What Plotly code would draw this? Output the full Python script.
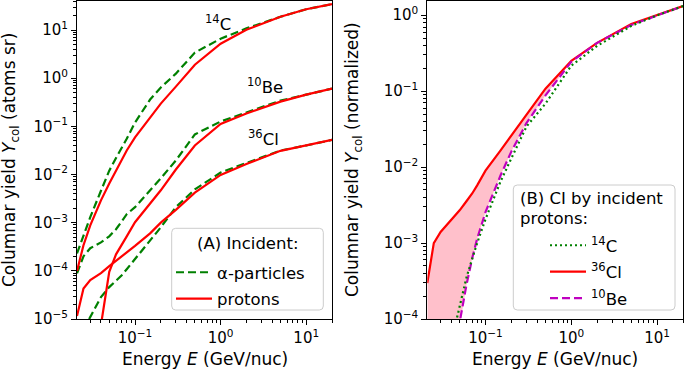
import math
import plotly.graph_objects as go

# ---------------- data ----------------
energy = [0.021, 0.025, 0.03, 0.04, 0.05, 0.06, 0.07, 0.08, 0.1, 0.15, 0.2, 0.3, 0.5, 1, 2, 5, 10, 20]

# (A) columnar yield (atoms sr)
c14_alpha = [2.3e-4, 5.6e-4, 1.3e-3, 4.6e-3, 1.2e-2, 2.2e-2, 3.5e-2, 5.5e-2, 0.12, 0.36, 0.64, 1.24, 3.4, 6.6, 10.8, 18.8, 27, 34.4]
c14_proton = [9.9e-5, 3.4e-4, 8.8e-4, 2.9e-3, 6.5e-3, 1.22e-2, 2.06e-2, 3.15e-2, 5.9e-2, 0.152, 0.296, 0.667, 1.9, 5.2, 10.1, 18.8, 27, 34.4]
be10_alpha = [8.9e-5, 2.0e-4, 2.95e-4, 3.9e-4, 5.2e-4, 7.3e-4, 1.07e-3, 1.5e-3, 2.1e-3, 4.7e-3, 8.3e-3, 1.96e-2, 6.8e-2, 0.126, 0.193, 0.342, 0.455, 0.607]
be10_proton = [None, None, None, 7.5e-6, 9.5e-5, 2.2e-4, 3.4e-4, 5.2e-4, 1.02e-3, 2.5e-3, 4.7e-3, 1.27e-2, 4.0e-2, 0.112, 0.184, 0.326, 0.455, 0.607]
cl36_alpha = [None, 6e-6, 1.1e-5, 2.85e-5, 4.6e-5, 6.1e-5, 8.1e-5, 1.08e-4, 1.75e-4, 4.3e-4, 8.0e-4, 2.1e-3, 4.9e-3, 1.1e-2, 1.75e-2, 3.15e-2, 4.0e-2, 5.23e-2]
cl36_proton = [1.15e-5, 4.3e-5, 6.4e-5, 8.95e-5, 1.25e-4, 1.6e-4, 2.0e-4, 2.44e-4, 3.3e-4, 6.0e-4, 1.0e-3, 1.85e-3, 4.2e-3, 9.8e-3, 1.65e-2, 3.1e-2, 4.0e-2, 5.23e-2]

# (B) normalized columnar yield, incident protons
c14_norm = [None, None, None, 5e-5, 1.4e-4, 3.5e-4, 6.2e-4, 1.0e-3, 2.06e-3, 6.5e-3, 1.3e-2, 3.42e-2, 6.86e-2, 0.217, 0.395, 0.724, 1.0, 1.32]
cl36_norm = [2.98e-4, 1.0e-3, 1.4e-3, 2.0e-3, 2.7e-3, 3.55e-3, 4.5e-3, 5.75e-3, 9.0e-3, 1.66e-2, 2.6e-2, 4.9e-2, 0.108, 0.251, 0.433, 0.769, 1.0, 1.32]
be10_norm = [None, None, None, 1.7e-5, 9e-5, 2.8e-4, 6.3e-4, 1.14e-3, 2.55e-3, 7.8e-3, 1.6e-2, 3.8e-2, 8.8e-2, 0.244, 0.433, 0.745, 1.0, 1.32]

x_ticks = [0.1, 1, 10]
x_ticktext = ["10<sup>\u22121</sup>", "10<sup>0</sup>", "10<sup>1</sup>"]
yA_ticks = [1e-5, 1e-4, 1e-3, 1e-2, 1e-1, 1, 10]
yA_ticktext = ["10<sup>\u22125</sup>", "10<sup>\u22124</sup>", "10<sup>\u22123</sup>", "10<sup>\u22122</sup>",
               "10<sup>\u22121</sup>", "10<sup>0</sup>", "10<sup>1</sup>"]
yB_ticks = [1e-4, 1e-3, 1e-2, 1e-1, 1]
yB_ticktext = ["10<sup>\u22124</sup>", "10<sup>\u22123</sup>", "10<sup>\u22122</sup>", "10<sup>\u22121</sup>", "10<sup>0</sup>"]

# ---------------- styles / layout geometry ----------------
FONT = "DejaVu Sans"
FS_TICK = 15
FS_TITLE = 17
FS_LEG = 16.5
GREEN = "#008000"
RED = "#ff0000"
MAGENTA = "#bf00bf"
PINK = "#ffc0cb"
LW = 2.2
FILL_FLOOR = 1e-7
W, H = 685, 369
ML, MR, MT, MB = 77, 2, 1, 50
PW, PH = W - ML - MR, H - MT - MB


def px_x(px):
    return (px - ML) / PW


def px_y(py):
    return (H - MB - py) / PH


fig = go.Figure()

# ---- panel A ----
for i, ys in enumerate([c14_alpha, be10_alpha, cl36_alpha]):
    fig.add_trace(go.Scatter(x=energy, y=ys, mode="lines", name="\u03b1-particles",
                             line=dict(color=GREEN, width=LW, dash="8px,4px"),
                             showlegend=(i == 0), legend="legend", legendrank=1, legendgroup="a",
                             xaxis="x", yaxis="y", hoverinfo="skip"))
for i, ys in enumerate([c14_proton, be10_proton, cl36_proton]):
    fig.add_trace(go.Scatter(x=energy, y=ys, mode="lines", name="protons",
                             line=dict(color=RED, width=LW),
                             showlegend=(i == 0), legend="legend", legendrank=2, legendgroup="p",
                             xaxis="x", yaxis="y", hoverinfo="skip"))

# ---- panel B ----
lower = [v if v is not None else FILL_FLOOR for v in be10_norm]
fig.add_trace(go.Scatter(x=energy + energy[::-1], y=cl36_norm + lower[::-1],
                         mode="lines", fill="toself", fillcolor=PINK,
                         line=dict(width=0, color=PINK), showlegend=False,
                         xaxis="x2", yaxis="y2", hoverinfo="skip"))
fig.add_trace(go.Scatter(x=energy, y=cl36_norm, mode="lines", name="<sup>36</sup>Cl",
                         line=dict(color=RED, width=LW), legend="legend2", legendrank=2, legendgroup="cl",
                         xaxis="x2", yaxis="y2", hoverinfo="skip"))
fig.add_trace(go.Scatter(x=energy, y=be10_norm, mode="lines", name="<sup>10</sup>Be",
                         line=dict(color=MAGENTA, width=LW, dash="8px,4px"), legend="legend2", legendrank=3,
                         legendgroup="be", xaxis="x2", yaxis="y2", hoverinfo="skip"))
fig.add_trace(go.Scatter(x=energy, y=c14_norm, mode="lines", name="<sup>14</sup>C",
                         line=dict(color=GREEN, width=LW, dash="2px,3px"), legend="legend2", legendrank=1,
                         legendgroup="c", xaxis="x2", yaxis="y2", hoverinfo="skip"))


def minor_vals(lo_exp, hi_exp, vmin, vmax):
    vals = []
    for e in range(lo_exp, hi_exp + 1):
        for m in range(2, 10):
            v = m * 10 ** e
            if vmin < v <= vmax:
                vals.append(v)
    return vals


def axis_common():
    return dict(type="log", showline=True, mirror=True, linecolor="black", linewidth=1,
                ticks="outside", ticklen=5, tickwidth=1, tickcolor="black", automargin=False,
                showgrid=False, zeroline=False,
                tickfont=dict(family=FONT, size=FS_TICK, color="black"))


xr = [math.log10(0.021), math.log10(20)]
xminor = minor_vals(-2, 1, 0.021, 20)
minor_style = dict(tickmode="array", ticks="outside", ticklen=3, tickwidth=1, tickcolor="black")

legend_common = dict(bgcolor="rgba(0,0,0,0)", borderwidth=0, font=dict(family=FONT, size=FS_LEG),
                     itemwidth=36, traceorder="grouped", tracegroupgap=2,
                     xanchor="left", yanchor="top")

fig.update_layout(
    template="none",
    width=W, height=H,
    margin=dict(l=ML, r=MR, t=MT, b=MB),
    paper_bgcolor="white", plot_bgcolor="white",
    font=dict(family=FONT, size=FS_TICK, color="black"),
    xaxis=dict(**axis_common(), domain=[0, px_x(332)], range=xr, anchor="y",
               tickmode="array", tickvals=x_ticks, ticktext=x_ticktext,
               minor=dict(**minor_style, tickvals=xminor)),
    yaxis=dict(**axis_common(), domain=[0, 1], range=[-5, math.log10(40)], anchor="x",
               tickmode="array", tickvals=yA_ticks, ticktext=yA_ticktext,
               minor=dict(**minor_style, tickvals=minor_vals(-5, 1, 1e-5, 40))),
    xaxis2=dict(**axis_common(), domain=[px_x(427.3), 1], range=xr, anchor="y2",
                tickmode="array", tickvals=x_ticks, ticktext=x_ticktext,
                minor=dict(**minor_style, tickvals=xminor)),
    yaxis2=dict(**axis_common(), domain=[0, 1], range=[-4, math.log10(1.54)], anchor="x2",
                tickmode="array", tickvals=yB_ticks, ticktext=yB_ticktext,
                minor=dict(**minor_style, tickvals=minor_vals(-4, 0, 1e-4, 1.54))),
    legend=dict(**legend_common, x=px_x(171), y=px_y(255)),
    legend2=dict(**legend_common, x=px_x(545), y=px_y(228)),
)


# legend frames (rounded boxes)
def rounded_box(x0, y0, x1, y1, r=4):
    X = lambda v: px_x(v)
    Y = lambda v: px_y(v)
    return (f"M {X(x0 + r)},{Y(y0)} L {X(x1 - r)},{Y(y0)} Q {X(x1)},{Y(y0)} {X(x1)},{Y(y0 + r)} "
            f"L {X(x1)},{Y(y1 - r)} Q {X(x1)},{Y(y1)} {X(x1 - r)},{Y(y1)} "
            f"L {X(x0 + r)},{Y(y1)} Q {X(x0)},{Y(y1)} {X(x0)},{Y(y1 - r)} "
            f"L {X(x0)},{Y(y0 + r)} Q {X(x0)},{Y(y0)} {X(x0 + r)},{Y(y0)} Z")


shapes = []
for box in [(171.7, 228.3, 323.3, 310), (513.3, 185, 675, 310)]:
    shapes.append(dict(type="path", xref="paper", yref="paper", path=rounded_box(*box),
                       fillcolor="rgba(255,255,255,0.8)", line=dict(color="#cccccc", width=1), layer="above"))
fig.update_layout(shapes=shapes)

ann = []
# legend titles
ann.append(dict(text="(A) Incident:", xref="paper", yref="paper", x=px_x(247.5), y=px_y(244),
                xanchor="center", yanchor="middle", showarrow=False, font=dict(family=FONT, size=FS_LEG)))
ann.append(dict(text="(B) CI by incident", xref="paper", yref="paper", x=px_x(518), y=px_y(198),
                xanchor="left", yanchor="middle", showarrow=False, font=dict(family=FONT, size=FS_LEG)))
ann.append(dict(text="protons:", xref="paper", yref="paper", x=px_x(518), y=px_y(218),
                xanchor="left", yanchor="middle", showarrow=False, font=dict(family=FONT, size=FS_LEG)))
# axis titles
for xd in ["x domain", "x2 domain"]:
    ann.append(dict(text="Energy <i>E</i> (GeV/nuc)", xref=xd, x=0.5, yref="paper", y=px_y(359),
                    xanchor="center", yanchor="middle", showarrow=False, font=dict(family=FONT, size=FS_TITLE)))
ann.append(dict(text="Columnar yield <i>Y</i><sub>col</sub> (atoms sr)", xref="paper", x=px_x(10),
                yref="paper", y=0.5, textangle=-90, xanchor="center", yanchor="middle",
                showarrow=False, font=dict(family=FONT, size=FS_TITLE)))
ann.append(dict(text="Columnar yield <i>Y</i><sub>col</sub> (normalized)", xref="paper", x=px_x(353),
                yref="paper", y=0.5, textangle=-90, xanchor="center", yanchor="middle",
                showarrow=False, font=dict(family=FONT, size=FS_TITLE)))
# curve labels in panel A
for txt, lx, ly in [("<sup>14</sup>C", -0.03, 1.149), ("<sup>10</sup>Be", 0.523, -0.155), ("<sup>36</sup>Cl", 0.50, -1.232)]:
    ann.append(dict(text=txt, xref="x", yref="y", x=lx, y=ly, showarrow=False,
                    xanchor="center", yanchor="middle", font=dict(family=FONT, size=FS_LEG)))
fig.update_layout(annotations=ann)

fig.write_html("out.html", config={"displayModeBar": False},
               post_script="document.body.style.margin='0';document.body.style.padding='0';")
